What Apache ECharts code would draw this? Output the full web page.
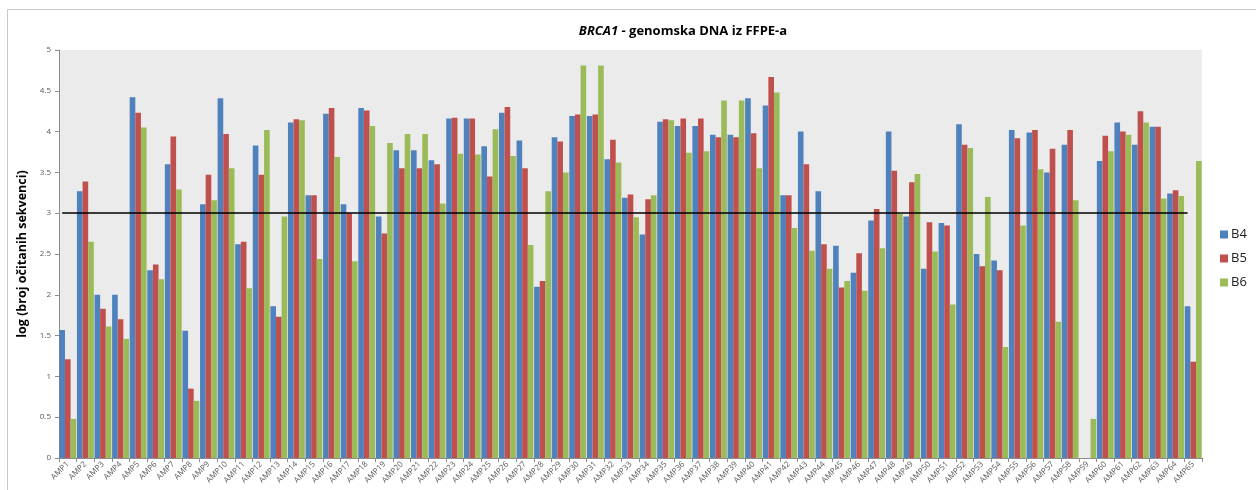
<!DOCTYPE html>
<html>
<head>
<meta charset="utf-8">
<title>BRCA1 - genomska DNA iz FFPE-a</title>
<script src="https://cdn.jsdelivr.net/npm/echarts@6/dist/echarts.min.js"></script>
<style>
  html, body { margin: 0; padding: 0; background: #ffffff; }
  #chart { width: 1256px; height: 490px; }
</style>
</head>
<body>
<div id="chart"></div>
<script>
// Amplicon names AMP1 ... AMP65
const categories = [
  'AMP1','AMP2','AMP3','AMP4','AMP5','AMP6','AMP7','AMP8','AMP9','AMP10',
  'AMP11','AMP12','AMP13','AMP14','AMP15','AMP16','AMP17','AMP18','AMP19','AMP20',
  'AMP21','AMP22','AMP23','AMP24','AMP25','AMP26','AMP27','AMP28','AMP29','AMP30',
  'AMP31','AMP32','AMP33','AMP34','AMP35','AMP36','AMP37','AMP38','AMP39','AMP40',
  'AMP41','AMP42','AMP43','AMP44','AMP45','AMP46','AMP47','AMP48','AMP49','AMP50',
  'AMP51','AMP52','AMP53','AMP54','AMP55','AMP56','AMP57','AMP58','AMP59','AMP60',
  'AMP61','AMP62','AMP63','AMP64','AMP65'
];

// log (number of reads) per amplicon, sample B4
const b4 = [
  1.57, 3.27, 2.00, 2.00, 4.42, 2.30, 3.60, 1.56, 3.11, 4.41,
  2.62, 3.83, 1.86, 4.11, 3.22, 4.22, 3.11, 4.29, 2.96, 3.77,
  3.77, 3.65, 4.16, 4.16, 3.82, 4.23, 3.89, 2.10, 3.93, 4.19,
  4.19, 3.66, 3.19, 2.74, 4.12, 4.07, 4.07, 3.96, 3.96, 4.41,
  4.32, 3.22, 4.00, 3.27, 2.60, 2.27, 2.91, 4.00, 2.96, 2.32,
  2.88, 4.09, 2.50, 2.42, 4.02, 3.99, 3.50, 3.84, 0.00, 3.64,
  4.11, 3.84, 4.06, 3.24, 1.86
];

// sample B5
const b5 = [
  1.21, 3.39, 1.83, 1.70, 4.23, 2.37, 3.94, 0.85, 3.47, 3.97,
  2.65, 3.47, 1.73, 4.15, 3.22, 4.29, 3.00, 4.26, 2.75, 3.55,
  3.55, 3.60, 4.17, 4.16, 3.45, 4.30, 3.55, 2.17, 3.88, 4.21,
  4.21, 3.90, 3.23, 3.17, 4.15, 4.16, 4.16, 3.93, 3.93, 3.98,
  4.67, 3.22, 3.60, 2.62, 2.09, 2.51, 3.05, 3.52, 3.38, 2.89,
  2.85, 3.84, 2.35, 2.30, 3.92, 4.02, 3.79, 4.02, 0.00, 3.95,
  4.00, 4.25, 4.06, 3.28, 1.18
];

// sample B6
const b6 = [
  0.48, 2.65, 1.61, 1.46, 4.05, 2.19, 3.29, 0.70, 3.16, 3.55,
  2.08, 4.02, 2.96, 4.14, 2.44, 3.69, 2.41, 4.07, 3.86, 3.97,
  3.97, 3.12, 3.73, 3.72, 4.03, 3.70, 2.61, 3.27, 3.50, 4.81,
  4.81, 3.62, 2.95, 3.22, 4.14, 3.74, 3.76, 4.38, 4.38, 3.55,
  4.48, 2.82, 2.54, 2.32, 2.17, 2.05, 2.57, 2.99, 3.48, 2.53,
  1.88, 3.80, 3.20, 1.36, 2.85, 3.54, 1.67, 3.16, 0.48, 3.76,
  3.96, 4.11, 3.18, 3.21, 3.64
];

// y-axis tick values
const yTicks = [0, 0.5, 1, 1.5, 2, 2.5, 3, 3.5, 4, 4.5, 5];

// cut-off level drawn as a black reference line
const threshold = 3;

const seriesNames = ['B4', 'B5', 'B6'];
const seriesData = [b4, b5, b6];
const seriesColors = ['#4f81bd', '#c0504d', '#9bbb59'];

const chart = echarts.init(document.getElementById('chart'), null, { renderer: 'canvas' });

const series = seriesNames.map((name, i) => {
  const s = {
    name: name,
    type: 'bar',
    data: seriesData[i],
    barGap: '0%',
    barCategoryGap: '4%',
    itemStyle: {
      color: seriesColors[i],
      borderWidth: 0
    },
    emphasis: { disabled: true },
    animation: false
  };
  if (i === 0) {
    s.markLine = {
      silent: true,
      symbol: 'none',
      label: { show: false },
      lineStyle: { color: '#000000', width: 1.6, type: 'solid' },
      data: [[
        { coord: [categories[0], threshold] },
        { coord: [categories[categories.length - 1], threshold] }
      ]]
    };
  }
  return s;
});

const option = {
  backgroundColor: '#ffffff',
  animation: false,
  title: {
    text: '{i|BRCA1}{n| - genomska DNA iz FFPE-a}',
    left: 678,
    top: 20,
    textAlign: 'center',
    textStyle: {
      rich: {
        i: { fontFamily: 'Open Sans', fontSize: 13, fontWeight: 'bold', fontStyle: 'italic', color: '#000000' },
        n: { fontFamily: 'Open Sans', fontSize: 13, fontWeight: 'bold', color: '#000000' }
      }
    }
  },
  legend: {
    orient: 'vertical',
    left: 1220,
    top: 228,
    padding: 0,
    itemWidth: 8,
    itemHeight: 8,
    itemGap: 11,
    icon: 'rect',
    data: seriesNames,
    textStyle: { fontFamily: 'Open Sans', fontSize: 13, color: '#222222', padding: [0, 0, 0, -2] }
  },
  grid: {
    left: 59,
    right: 54,
    top: 50,
    bottom: 32,
    show: true,
    backgroundColor: '#ebebeb',
    borderWidth: 0
  },
  xAxis: {
    type: 'category',
    data: categories,
    boundaryGap: true,
    axisLine: { show: true, lineStyle: { color: '#8c8c8c', width: 1 } },
    axisTick: { show: true, length: 4, lineStyle: { color: '#8c8c8c' } },
    axisLabel: {
      interval: 0,
      rotate: 45,
      margin: 5,
      fontFamily: 'Open Sans',
      fontSize: 8,
      color: '#595959'
    },
    splitLine: { show: false }
  },
  yAxis: {
    type: 'value',
    min: yTicks[0],
    max: yTicks[yTicks.length - 1],
    interval: yTicks[1] - yTicks[0],
    name: 'log (broj očitanih sekvenci)',
    nameLocation: 'middle',
    nameGap: 30,
    nameTextStyle: { fontFamily: 'Open Sans', fontSize: 12.5, fontWeight: 'bold', color: '#000000' },
    axisLine: { show: true, lineStyle: { color: '#8c8c8c', width: 1 } },
    axisTick: { show: true, length: 4, lineStyle: { color: '#8c8c8c' } },
    axisLabel: {
      margin: 8,
      fontFamily: 'Open Sans',
      fontSize: 8,
      color: '#595959',
      formatter: v => String(v)
    },
    splitLine: { show: false }
  },
  graphic: [{
    type: 'rect',
    silent: true,
    z: -10,
    shape: { x: 7.5, y: 9.5, width: 1300, height: 600 },
    style: { fill: 'none', stroke: '#c8c8c8', lineWidth: 1 }
  }],
  series: series
};

chart.setOption(option);
</script>
</body>
</html>
